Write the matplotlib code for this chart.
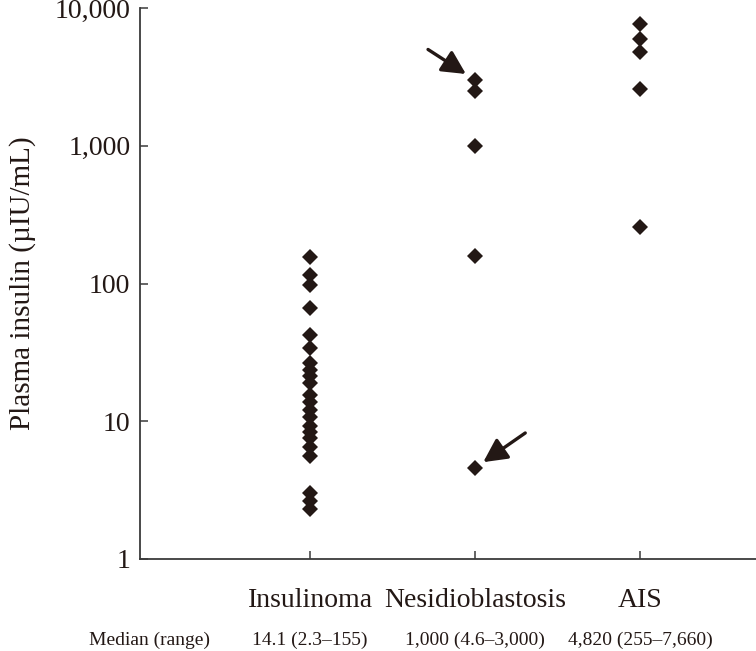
import matplotlib
matplotlib.use('Agg')
import matplotlib.pyplot as plt
import matplotlib.transforms as mtransforms
from matplotlib.ticker import FixedLocator, NullLocator

plt.rcParams['font.family'] = ['Liberation Serif', 'DejaVu Serif']

# 데이터
groups = ['Insulinoma', 'Nesidioblastosis', 'AIS']
insulinoma = [155, 115, 98, 66, 42, 34, 26.5, 23.6, 21.3, 18.9, 15.5, 13.8,
              12.0, 10.7, 9.3, 8.3, 7.5, 6.5, 5.6, 3.0, 2.65, 2.3]
nesidioblastosis = [3000, 2500, 1000, 158, 4.6]
ais = [7660, 6000, 4820, 2600, 255]
summaries = ['14.1 (2.3–155)', '1,000 (4.6–3,000)', '4,820 (255–7,660)']
y_ticks = [1, 10, 100, 1000, 10000]
y_tick_labels = ['1', '10', '100', '1,000', '10,000']

ink = '#231815'

fig = plt.figure(figsize=(7.56, 6.51), dpi=100)
ax = fig.add_axes([140 / 756, 1 - 559 / 651, 1 - 140 / 756, (559 - 8) / 651])

for i, vals in enumerate([insulinoma, nesidioblastosis, ais]):
    ax.plot([i + 1] * len(vals), vals, linestyle='none', marker='D',
            markersize=8, color=ink, markeredgewidth=0)

ax.set_yscale('log')
ax.set_ylim(1, 10000)
ax.set_xlim(-0.03, 3.70)
ax.yaxis.set_major_locator(FixedLocator(y_ticks))
ax.yaxis.set_minor_locator(NullLocator())
ax.set_yticklabels(y_tick_labels)
ax.set_xticks([1, 2, 3])
ax.set_xticklabels(groups)

for side in ['top', 'right']:
    ax.spines[side].set_visible(False)
for side in ['left', 'bottom']:
    ax.spines[side].set_color('#3a3a3a')
    ax.spines[side].set_linewidth(1.3)

ax.tick_params(axis='both', direction='in', color='#3a3a3a', width=1.1,
               length=5.5, labelsize=20, labelcolor=ink)
ax.tick_params(axis='x', pad=21)
ax.tick_params(axis='y', pad=7)
ax.set_ylabel('Plasma insulin (µIU/mL)', fontsize=21, color=ink, labelpad=13)

# 화살표 (Nesidioblastosis 최대/최소값 표시)
arrow_kw = dict(arrowstyle='-|>,head_length=0.55,head_width=0.28', color=ink,
                lw=2.4, mutation_scale=26, shrinkA=0)
ax.annotate('', xy=(2, max(nesidioblastosis)), xytext=(-34, 22),
            textcoords='offset points',
            arrowprops=dict(arrow_kw, shrinkB=8))
ax.annotate('', xy=(2, min(nesidioblastosis)), xytext=(36, 25),
            textcoords='offset points',
            arrowprops=dict(arrow_kw, shrinkB=7))

# 중앙값 (범위) 표시
trans = mtransforms.blended_transform_factory(ax.transData, ax.transAxes)
ax.text(0.03, -0.148, 'Median (range)', transform=trans, ha='center', va='center',
        fontsize=14, color=ink)
for i, s in enumerate(summaries):
    ax.text(i + 1, -0.148, s, transform=trans, ha='center', va='center',
            fontsize=14, color=ink)

fig.savefig('out.png', dpi=100)
